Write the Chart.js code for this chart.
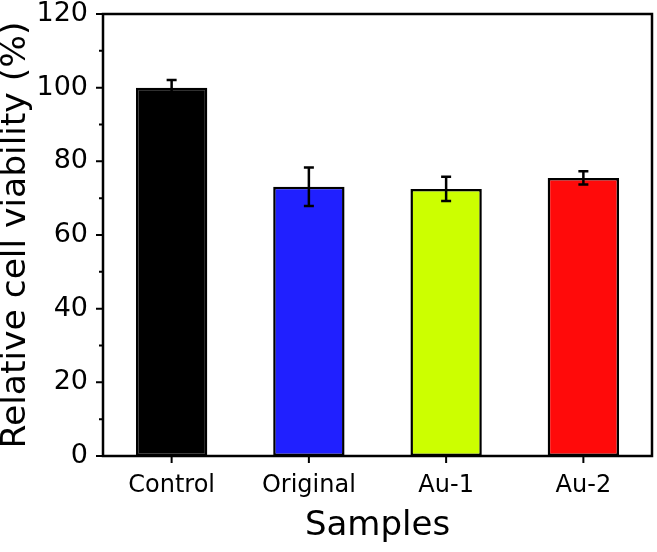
<!DOCTYPE html>
<html>
<head>
<meta charset="utf-8">
<script src="https://cdn.jsdelivr.net/npm/chart.js@4.4.1/dist/chart.umd.min.js"></script>
<style>
  html, body { margin: 0; padding: 0; background: #fff; }
  #wrap { width: 657px; height: 552px; }
</style>
</head>
<body>
<div id="wrap"><canvas id="chart"></canvas></div>
<script>
// Data
const categories = ['Control', 'Original', 'Au-1', 'Au-2'];
const viability = [100, 73.1, 72.5, 75.5];
const viabilityErr = [2.1, 5.2, 3.3, 1.8];
const barColors = ['#000000', '#2020ff', '#ccff00', '#ff0a0a'];
const yMajorTicks = [0, 20, 40, 60, 80, 100, 120];
const yMinorTicks = [10, 30, 50, 70, 90, 110];

const FONT = "'DejaVu Sans', sans-serif";

// error bars, frame and tick marks
const decorations = {
    id: 'decorations',
    afterDatasetsDraw(chart) {
        const ctx = chart.ctx;
        const yScale = chart.scales.y;
        const meta = chart.getDatasetMeta(0);
        ctx.save();
        ctx.strokeStyle = '#000';
        ctx.lineWidth = 2.5;
        meta.data.forEach((bar, i) => {
            const top = yScale.getPixelForValue(viability[i] + viabilityErr[i]);
            const bottom = yScale.getPixelForValue(viability[i] - viabilityErr[i]);
            ctx.beginPath();
            ctx.moveTo(bar.x, top);
            ctx.lineTo(bar.x, bottom);
            ctx.moveTo(bar.x - 5, top);
            ctx.lineTo(bar.x + 5, top);
            ctx.moveTo(bar.x - 5, bottom);
            ctx.lineTo(bar.x + 5, bottom);
            ctx.stroke();
        });
        ctx.restore();
    },
    afterDraw(chart) {
        const ctx = chart.ctx;
        const area = chart.chartArea;
        const yScale = chart.scales.y;
        const xScale = chart.scales.x;
        ctx.save();
        ctx.strokeStyle = '#000';
        ctx.lineWidth = 2.5;
        ctx.strokeRect(area.left, area.top, area.right - area.left, area.bottom - area.top);
        ctx.lineWidth = 2;
        ctx.beginPath();
        yMajorTicks.forEach(v => {
            const y = yScale.getPixelForValue(v);
            ctx.moveTo(area.left - 7, y);
            ctx.lineTo(area.left, y);
        });
        yMinorTicks.forEach(v => {
            const y = yScale.getPixelForValue(v);
            ctx.moveTo(area.left - 4, y);
            ctx.lineTo(area.left, y);
        });
        categories.forEach((c, i) => {
            const x = xScale.getPixelForValue(i);
            ctx.moveTo(x, area.bottom);
            ctx.lineTo(x, area.bottom + 7);
        });
        ctx.stroke();
        ctx.restore();
    }
};

new Chart(document.getElementById('chart'), {
    type: 'bar',
    data: {
        labels: categories,
        datasets: [{
            data: viability,
            backgroundColor: barColors,
            borderColor: '#000',
            borderWidth: 2.5,
            borderSkipped: false,
            barPercentage: 0.52,
            categoryPercentage: 1
        }]
    },
    options: {
        responsive: true,
        maintainAspectRatio: false,
        animation: false,
        layout: { padding: { top: 14, right: 5, left: 0, bottom: 0 } },
        plugins: {
            legend: { display: false },
            tooltip: { enabled: false }
        },
        scales: {
            x: {
                grid: { display: false, drawTicks: false },
                border: { display: false },
                ticks: {
                    color: '#000',
                    padding: 15,
                    font: { family: FONT, size: 24 }
                },
                title: {
                    display: true,
                    text: 'Samples',
                    color: '#000',
                    font: { family: FONT, size: 34 },
                    padding: { top: 0, bottom: 5 }
                },
                afterFit(scale) {
                    scale.height = 96;
                    scale.paddingLeft = 0;
                    scale.paddingRight = 0;
                }
            },
            y: {
                min: 0,
                max: 120,
                grid: { display: false, drawTicks: false },
                border: { display: false },
                ticks: {
                    stepSize: 20,
                    color: '#000',
                    padding: 15,
                    font: { family: FONT, size: 27 }
                },
                title: {
                    display: true,
                    text: 'Relative cell viability (%)',
                    color: '#000',
                    font: { family: FONT, size: 34.5 },
                    padding: { top: -5, bottom: 0 }
                },
                afterFit(scale) {
                    scale.width = 103;
                    scale.paddingTop = 0;
                    scale.paddingBottom = 0;
                }
            }
        }
    },
    plugins: [decorations]
});
</script>
</body>
</html>
